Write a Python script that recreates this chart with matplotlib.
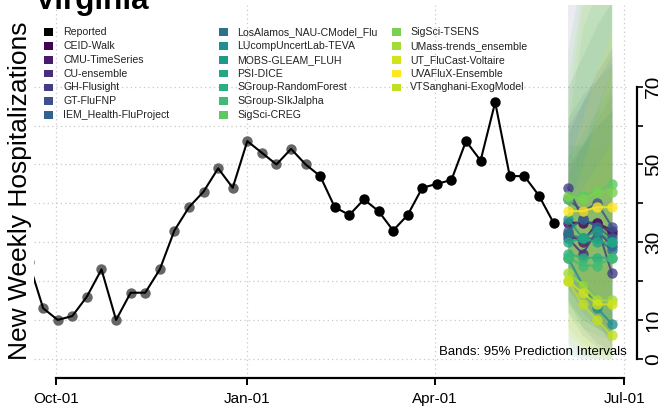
import numpy as np
import pandas as pd
import matplotlib
matplotlib.use("Agg")
import matplotlib.pyplot as plt
import matplotlib.dates as mdates
from matplotlib.patches import Rectangle

plt.rcParams['font.family'] = ['Liberation Sans', 'DejaVu Sans']

W, H = 658, 413

# reported weekly hospitalizations (weeks ending Saturday)
REPORT_START = '2021-09-18'
REPORTED = [25, 13, 10, 11, 16, 23, 10, 17, 17, 23, 33, 39, 43, 49, 44, 56, 53, 50, 54, 50,
            47, 39, 37, 41, 38, 33, 37, 44, 45, 46, 56, 51, 66, 47, 47, 42, 35]
N_GREY = 20  # older points drawn grey

FORECAST_START = '2022-06-04'

MODELS = ["CEID-Walk", "CMU-TimeSeries", "CU-ensemble", "GH-Flusight", "GT-FluFNP",
          "IEM_Health-FluProject", "LosAlamos_NAU-CModel_Flu", "LUcompUncertLab-TEVA",
          "MOBS-GLEAM_FLUH", "PSI-DICE", "SGroup-RandomForest", "SGroup-SIkJalpha",
          "SigSci-CREG", "SigSci-TSENS", "UMass-trends_ensemble", "UT_FluCast-Voltaire",
          "UVAFluX-Ensemble", "VTSanghani-ExogModel"]
COLORS = ["#440154", "#481a6c", "#472d7b", "#433d84", "#3b528b", "#33638d", "#2c728e",
          "#21908d", "#1f9a8a", "#22a884", "#2ab07f", "#3fbc73", "#5ec962", "#7ad151",
          "#a5db36", "#d2e21b", "#fde725", "#c2df23"]

MEDIAN = [[35, 35, 35, 33], [32, 30, 35, 32], [31, 27, 33, 29], [44, 36, 34, 22],
          [41, 38, 40, 34], [33, 36, 34, 31], [32, 31, 31, 28], [26, 19, 13, 9],
          [36, 31, 33, 30], [30, 31, 30, 30], [27, 26, 26, 26], [26, 24, 24, 26],
          [41, 42, 43, 45], [42, 41, 43, 43], [22, 19, 15, 15], [20, 17, 14, 14],
          [38, 38, 39, 39], [20, 14, 10, 6]]
LOWER = [[20, 14, 10, 6], [18, 12, 8, 5], [15, 8, 4, 2], [28, 18, 10, 3],
         [22, 15, 10, 6], [18, 14, 10, 8], [12, 6, 3, 1], [1, 0, 0, 0],
         [22, 16, 12, 10], [15, 10, 8, 6], [12, 8, 6, 5], [14, 10, 8, 6],
         [22, 15, 10, 8], [25, 18, 12, 10], [8, 4, 2, 1], [6, 3, 1, 0],
         [25, 20, 16, 12], [4, 1, 0, 0]]
UPPER = [[50, 55, 60, 64], [48, 55, 62, 68], [58, 66, 74, 80], [100, 110, 120, 130],
         [60, 66, 72, 78], [62, 68, 72, 76], [70, 78, 86, 92], [55, 55, 55, 55],
         [52, 56, 60, 64], [52, 58, 64, 70], [46, 55, 65, 75], [60, 85, 95, 100],
         [79, 100, 110, 120], [72, 95, 105, 115], [65, 90, 100, 110], [38, 50, 62, 75],
         [50, 62, 74, 85], [38, 44, 50, 56]]

XTICKS = ['2021-10-01', '2022-01-01', '2022-04-01', '2022-07-01']
XTICK_LABELS = ['Oct-01', 'Jan-01', 'Apr-01', 'Jul-01']

rep_dates = pd.date_range(REPORT_START, periods=len(REPORTED), freq='7D')
fc_dates = pd.date_range(FORECAST_START, periods=4, freq='7D')

fig = plt.figure(figsize=(W / 100, H / 100), dpi=100)
L, R, T, B = 34, 627, 5, 378
ax = fig.add_axes([L / W, 1 - B / H, (R - L) / W, (B - T) / H])

# calibration: Jan-01 at px 247.3, 2.083 px per day; value 0 at px 358.8, 3.887 px per unit
jan = mdates.date2num(pd.Timestamp('2022-01-01'))
ax.set_xlim(jan + (L - 247.3) / 2.083, jan + (R - 247.3) / 2.083)
ax.set_ylim((358.8 - B) / 3.887, (358.8 - T) / 3.887)

# grid
for d in XTICKS:
    ax.axvline(pd.Timestamp(d), color='#c8c8c8', lw=0.9, ls=(0, (1, 2.5)), zorder=0)
for v in range(0, 80, 10):
    ax.axhline(v, color='#c8c8c8', lw=0.9, ls=(0, (1, 2.5)), zorder=0)

# prediction bands
for c, lo, hi in zip(COLORS, LOWER, UPPER):
    ax.fill_between(fc_dates, lo, hi, color=c, alpha=0.1, lw=0, zorder=1)

# reported
ax.plot(rep_dates[:N_GREY], REPORTED[:N_GREY], 'o', color='#666666', ms=7.5, mew=0, zorder=2)
ax.plot(rep_dates, REPORTED, '-', color='black', lw=1.5, zorder=3)
ax.plot(rep_dates[N_GREY:], REPORTED[N_GREY:], 'o', color='black', ms=7.5, mew=0, zorder=4)

# forecasts
for c, med in zip(COLORS, MEDIAN):
    ax.plot(fc_dates, med, '-o', color=c, lw=1.5, ms=7.5, mew=0, alpha=0.8, zorder=5)

ax.text(1.0, (B - 352) / (B - T), 'Bands: 95% Prediction Intervals',
        transform=ax.transAxes, ha='right', va='center', fontsize=9.5)

# axes styling
for s in ['left', 'top']:
    ax.spines[s].set_visible(False)
ax.spines['bottom'].set_linewidth(1.6)
ax.spines['bottom'].set_bounds(mdates.date2num(pd.Timestamp(XTICKS[0])),
                               mdates.date2num(pd.Timestamp(XTICKS[-1])))
ax.spines['right'].set_linewidth(1.6)
ax.spines['right'].set_position(('outward', 7))
ax.spines['right'].set_bounds(0, 70)

ax.set_xticks([pd.Timestamp(d) for d in XTICKS])
ax.set_xticklabels(XTICK_LABELS, fontsize=11)
ax.tick_params(axis='x', length=5, width=1.4, pad=5)

ax.yaxis.tick_right()
ax.set_yticks(range(0, 80, 10))
ax.set_yticklabels(['0', '10', '', '30', '', '50', '', '70'], fontsize=15, rotation=90, va='center')
ax.tick_params(axis='y', length=4, width=1.2, pad=1.5)

# title and y label
fig.text(35 / W, 1 - 9 / H, 'Virginia', fontsize=22.6, fontweight='bold', va='baseline', ha='left')
fig.text(20 / W, 1 - 191 / H, 'New Weekly Hospitalizations', fontsize=19, rotation=90,
         ha='center', va='center')

# legend
names = ['Reported'] + MODELS
cols = ['black'] + COLORS
col_box = [44, 219, 392]
col_txt = [63, 237, 410]
for i, (n, c) in enumerate(zip(names, cols)):
    col, row = divmod(i, 7)
    yc = 32 + row * 13.85
    fig.add_artist(Rectangle((col_box[col] / W, 1 - (yc + 3.8) / H), 8.5 / W, 7.6 / H,
                             transform=fig.transFigure, color=c, lw=0))
    fig.text(col_txt[col] / W, 1 - yc / H, n, fontsize=7.6, va='center', ha='left',
             color='#222222')

fig.savefig('out.png', dpi=100)
